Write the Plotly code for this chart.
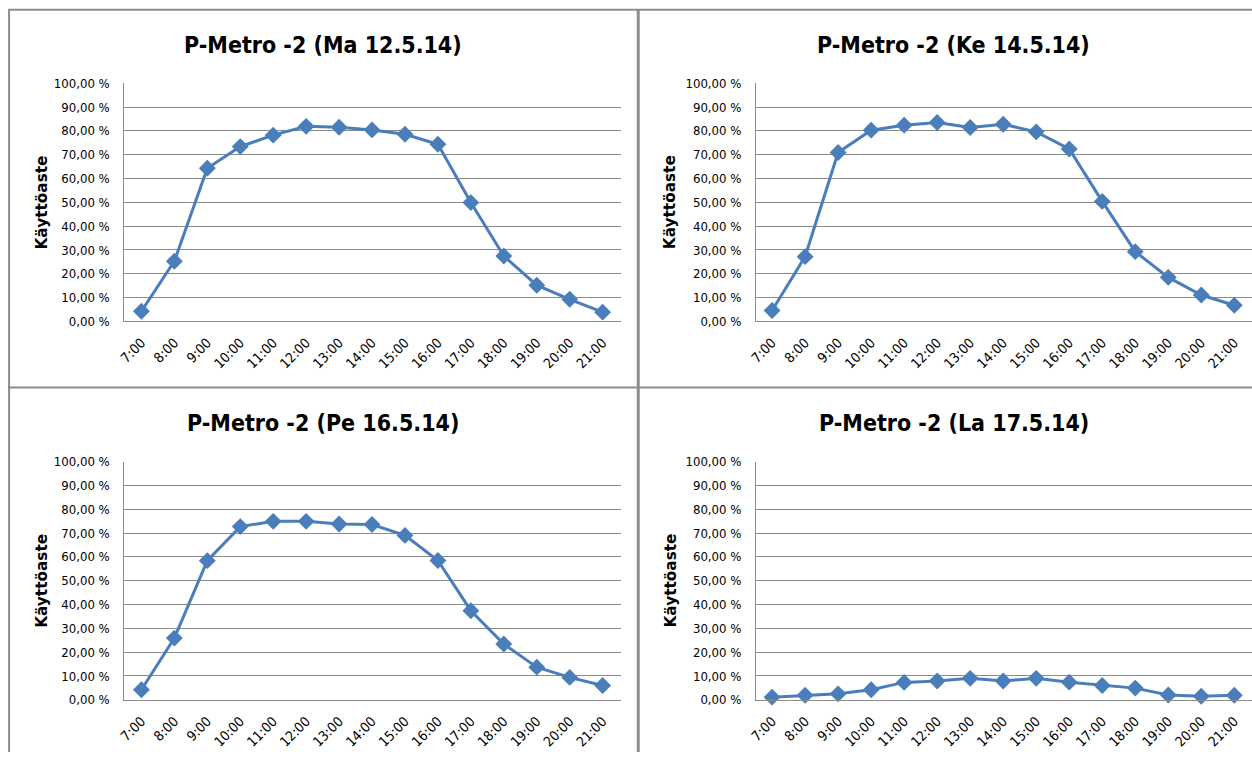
import plotly.graph_objects as go

# Hourly occupancy of the P-Metro level -2 car park, four days in May 2014
hours = ["7:00", "8:00", "9:00", "10:00", "11:00", "12:00", "13:00", "14:00",
         "15:00", "16:00", "17:00", "18:00", "19:00", "20:00", "21:00"]

ma_12_5 = [4.3, 25.3, 64.3, 73.4, 78.2, 81.9, 81.5, 80.4, 78.6, 74.4, 49.9, 27.5, 15.2, 9.3, 3.9]
ke_14_5 = [4.6, 27.2, 70.9, 80.3, 82.4, 83.5, 81.4, 82.8, 79.6, 72.4, 50.4, 29.3, 18.5, 11.1, 6.8]
pe_16_5 = [4.2, 25.9, 58.4, 72.7, 74.9, 74.9, 73.8, 73.6, 69.0, 58.5, 37.4, 23.4, 13.7, 9.4, 6.0]
la_17_5 = [1.1, 1.9, 2.5, 4.2, 7.3, 7.9, 9.0, 7.9, 9.0, 7.4, 6.0, 4.9, 2.0, 1.5, 1.9]

titles = ["P-Metro -2 (Ma 12.5.14)", "P-Metro -2 (Ke 14.5.14)",
          "P-Metro -2 (Pe 16.5.14)", "P-Metro -2 (La 17.5.14)"]
y_title = "Käyttöaste"

y_ticks = [0, 10, 20, 30, 40, 50, 60, 70, 80, 90, 100]
y_tick_labels = ["0,00 %", "10,00 %", "20,00 %", "30,00 %", "40,00 %", "50,00 %",
                 "60,00 %", "70,00 %", "80,00 %", "90,00 %", "100,00 %"]

# Layout is specified on a 1252 x 760 sheet; the page body adds an 8 px margin
# around the figure, so sheet coordinates are mapped through the page scale.
W, H = 1252, 760
PAD = 8
SX = 0.991
SY = H / (H + 2 * PAD)
LINE_BLUE = "#4A7EBB"
GRID = "#8A8A8A"
FRAME = "#8C8C8C"
NARROW = "DejaVu Sans Condensed, DejaVu Sans, sans-serif"


def px(x):
    return (x / SX - PAD) / W


def py(y):
    return 1 - (y / SY - PAD) / H


def fs(size):
    return size / SY


# plot-area boxes on the sheet: (left, right, top, bottom); first/last category centres
boxes = [(124, 619, 84, 322), (754, 1252, 84, 322),
         (124, 619, 462, 700), (754, 1252, 462, 700)]
centres = [(141, 601), (770, 1231), (141, 601), (770, 1231)]
title_pos = [(322, 46), (951, 46), (322, 423), (951, 423)]
ytitle_x = [42, 669, 42, 669]
series = [ma_12_5, ke_14_5, pe_16_5, la_17_5]

fig = go.Figure()
layout_axes = {}
annotations = []
last = len(hours) - 1

for i, (vals, (l, r, t, b)) in enumerate(zip(series, boxes)):
    n = "" if i == 0 else str(i + 1)
    c0, c1 = centres[i]
    step = (c1 - c0) / last
    right = min(px(r), 1)
    r_eff = (right * W + PAD) * SX
    fig.add_trace(go.Scatter(
        x=list(range(len(hours))), y=vals,
        xaxis="x" + n, yaxis="y" + n,
        mode="lines+markers",
        line=dict(color=LINE_BLUE, width=3),
        marker=dict(symbol="diamond", size=13, color=LINE_BLUE),
        showlegend=False, cliponaxis=False,
    ))
    layout_axes["xaxis" + n] = dict(
        domain=[px(l), right], anchor="y" + n,
        range=[-(c0 - l) / step, last + (r_eff - c1) / step],
        tickmode="array", tickvals=list(range(len(hours))), ticktext=hours,
        tickangle=-45, ticks="", showgrid=False, zeroline=False,
        showline=True, linecolor=GRID, linewidth=1,
        tickfont=dict(family=NARROW, size=fs(13.5), color="#000000"),
        ticklabelstandoff=7, fixedrange=True,
    )
    layout_axes["yaxis" + n] = dict(
        domain=[max(py(b), 0), py(t)], anchor="x" + n,
        range=[0, 100], tickmode="array", tickvals=y_ticks, ticktext=y_tick_labels,
        showgrid=True, gridcolor=GRID, gridwidth=1, zeroline=False,
        showline=True, linecolor=GRID, linewidth=1, ticks="",
        tickfont=dict(family=NARROW, size=fs(12.8), color="#000000"),
        ticklabelstandoff=11, fixedrange=True,
    )
    tx, ty = title_pos[i]
    annotations.append(dict(
        text="<b>%s</b>" % titles[i], x=px(tx), y=py(ty),
        xref="paper", yref="paper", xanchor="center", yanchor="middle",
        showarrow=False,
        font=dict(family=NARROW, size=fs(22.5), color="#000000"),
    ))
    annotations.append(dict(
        text="<b>%s</b>" % y_title, x=px(ytitle_x[i]), y=py((t + b) / 2),
        xref="paper", yref="paper", xanchor="center", yanchor="middle",
        textangle=-90, showarrow=False,
        font=dict(family="DejaVu Sans, sans-serif", size=fs(15), color="#000000"),
    ))

# chart frames: outer edges and the dividers between the four charts
shapes = [
    dict(type="line", xref="paper", yref="paper", x0=px(8), x1=1, y0=py(10.5), y1=py(10.5),
         line=dict(color=FRAME, width=2)),
    dict(type="line", xref="paper", yref="paper", x0=px(9), x1=px(9), y0=0, y1=py(10),
         line=dict(color=FRAME, width=2)),
    dict(type="line", xref="paper", yref="paper", x0=px(636.5), x1=px(636.5), y0=0, y1=py(10),
         line=dict(color=FRAME, width=3)),
    dict(type="line", xref="paper", yref="paper", x0=px(8), x1=1, y0=py(388), y1=py(388),
         line=dict(color=FRAME, width=2)),
]

fig.update_layout(
    width=W, height=H,
    margin=dict(l=0, r=0, t=0, b=0),
    paper_bgcolor="#FFFFFF", plot_bgcolor="#FFFFFF",
    annotations=annotations, shapes=shapes,
    **layout_axes,
)

fig.write_html("out.html", config={"displayModeBar": False})
